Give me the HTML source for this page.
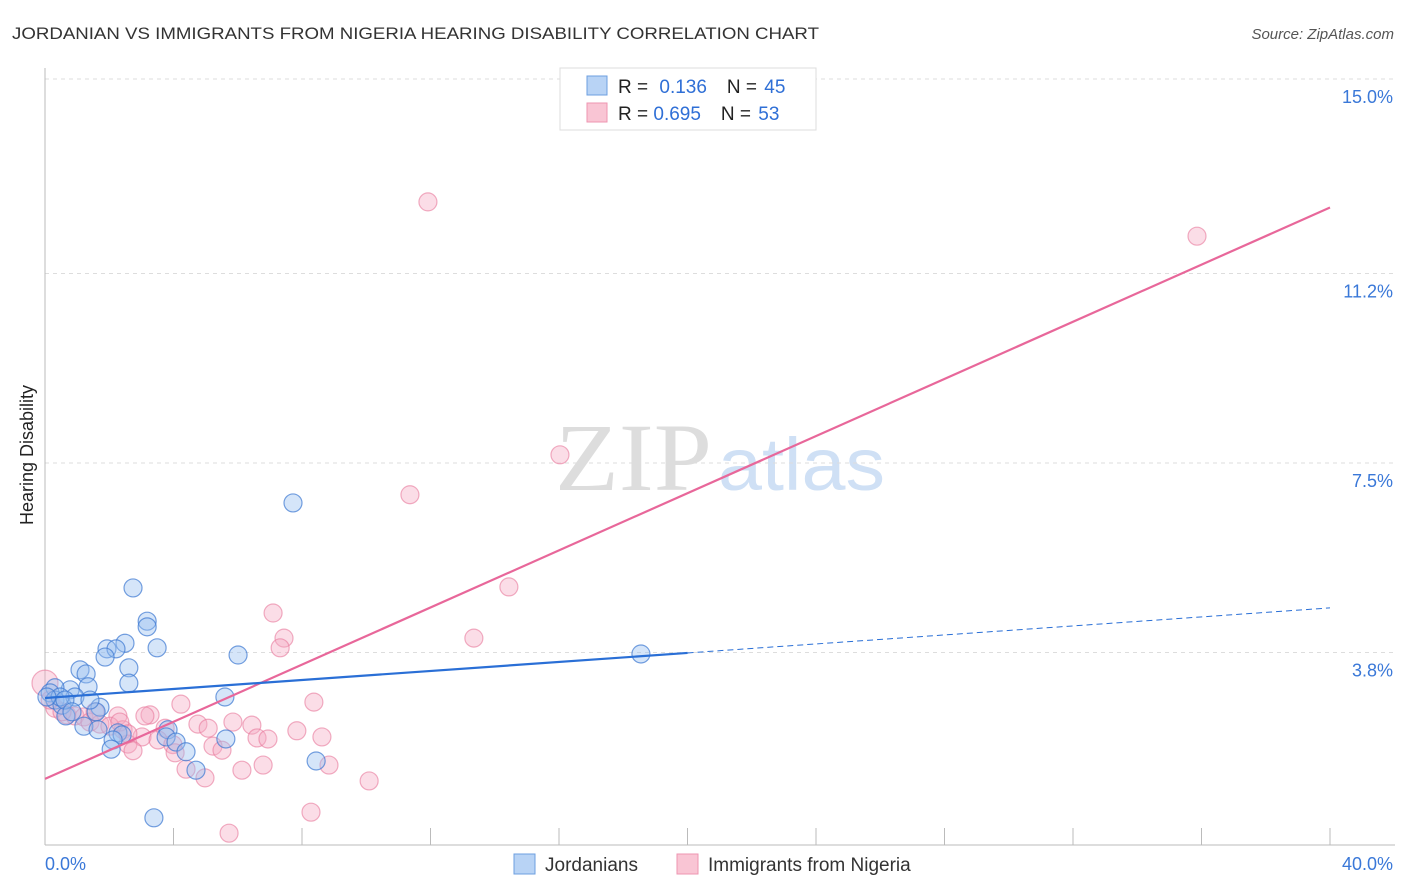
<!DOCTYPE html>
<html><head><meta charset="utf-8"><style>
body{margin:0;background:#fff;font-family:"Liberation Sans",sans-serif}
svg{display:block}
</style></head><body>
<svg id="c" width="1406" height="892">
<text x="12" y="39" font-size="17" fill="#333" textLength="807" lengthAdjust="spacingAndGlyphs">JORDANIAN VS IMMIGRANTS FROM NIGERIA HEARING DISABILITY CORRELATION CHART</text>
<text x="1394" y="39" font-size="15" fill="#555" font-style="italic" text-anchor="end">Source: ZipAtlas.com</text>
<text x="555" y="490" font-size="96" fill="#ddd" textLength="157" lengthAdjust="spacingAndGlyphs" font-family="Liberation Serif,serif">ZIP</text>
<text x="718" y="490" font-size="74" fill="#cfe0f5" textLength="167" lengthAdjust="spacingAndGlyphs">atlas</text>
<text transform="translate(33,455) rotate(-90)" font-size="18" fill="#222" text-anchor="middle">Hearing Disability</text>
<g id="grid"></g><g id="axes"></g><g id="pts"></g><g id="lines"></g>
<g>
<rect x="560" y="68" width="256" height="62" fill="#fff" stroke="#ddd"/>
<rect x="587" y="76" width="20" height="19" fill="#b8d3f5" stroke="#6d9fe0"/>
<rect x="587" y="103" width="20" height="19" fill="#f9c5d4" stroke="#ee95b1"/>
<text x="618" y="93" font-size="19" fill="#222">R = <tspan fill="#2f6fd6" dx="6">0.136</tspan><tspan fill="#222" dx="20">N = </tspan><tspan fill="#2f6fd6" dx="2">45</tspan></text>
<text x="618" y="120" font-size="19" fill="#222">R = <tspan fill="#2f6fd6">0.695</tspan><tspan fill="#222" dx="20">N = </tspan><tspan fill="#2f6fd6" dx="2">53</tspan></text>
</g>
<g>
<rect x="514" y="854" width="21" height="20" fill="#b8d3f5" stroke="#6d9fe0"/>
<text x="545" y="871" font-size="19" fill="#333">Jordanians</text>
<rect x="677" y="854" width="21" height="20" fill="#f9c5d4" stroke="#ee95b1"/>
<text x="708" y="871" font-size="19" fill="#333">Immigrants from Nigeria</text>
</g>
</svg>
<script>
const yTicks=[15.0,11.2,7.5,3.8];
const yTickLabels=["15.0%","11.2%","7.5%","3.8%"];
const xTickLabels=["0.0%","40.0%"];
const blueX=[7.72,2.74,3.18,3.18,3.49,6.01,18.55,2.49,1.93,2.21,1.87,2.61,2.61,1.09,1.28,1.34,0.78,0.31,0.16,0.31,0.53,0.93,5.60,1.71,1.59,0.65,1.21,1.65,2.27,2.40,2.12,2.06,3.83,3.77,4.08,4.39,5.63,4.70,8.44,3.39,0.47,0.06,1.40,0.62,0.84];
const blueY=[6.72,5.06,4.41,4.30,3.89,3.75,3.77,3.98,3.87,3.87,3.71,3.50,3.20,3.46,3.38,3.13,3.07,3.11,3.01,2.87,2.77,2.93,2.93,2.73,2.64,2.56,2.36,2.29,2.23,2.19,2.09,1.91,2.29,2.15,2.05,1.86,2.11,1.50,1.68,0.57,2.93,2.93,2.87,2.87,2.64];
const pinkX=[11.92,35.86,16.03,11.36,14.44,7.10,7.44,7.32,13.35,8.37,4.23,3.27,3.11,2.27,5.85,6.44,4.76,5.08,3.74,7.84,8.62,6.60,6.94,2.43,3.02,3.52,2.58,3.98,5.23,5.51,2.74,4.05,6.79,8.84,4.39,6.13,4.98,10.09,8.28,5.73,0,0.31,0.68,0.93,1.21,0.53,1.40,1.71,2.02,2.33,0.16,1.56,2.58];
const pinkY=[12.60,11.93,7.66,6.88,5.08,4.57,4.08,3.89,4.08,2.83,2.79,2.58,2.56,2.56,2.44,2.38,2.40,2.32,2.32,2.27,2.15,2.13,2.11,2.29,2.15,2.09,2.01,2.00,1.97,1.89,1.88,1.84,1.60,1.60,1.52,1.50,1.35,1.29,0.68,0.27,3.20,2.71,2.58,2.56,2.54,2.64,2.44,2.40,2.36,2.44,2.87,2.64,2.21];
const blueFit=[2.91,0.044]; // intercept, slope
const blueSolidEnd=20;
const pinkFit=[1.33,0.279];
const xs=v=>45+v*32.125, ys=v=>847-51.2*v;
const NS="http://www.w3.org/2000/svg";
function mk(p,t,a){const e=document.createElementNS(NS,t);for(const k in a)e.setAttribute(k,a[k]);document.getElementById(p).appendChild(e);return e;}
yTicks.forEach((v,i)=>{
 const l=mk('grid','line',{x1:45,x2:1395,y1:ys(v),y2:ys(v),stroke:'#ddd','stroke-dasharray':'4,4'});
 
 
 const t=mk('grid','text',{x:1393,y:ys(v)+24,'font-size':18,fill:'#3a78d8','text-anchor':'end'});
 t.textContent=yTickLabels[i];
 
 
});
mk('axes','line',{x1:45,x2:45,y1:68,y2:845,stroke:'#bbb'});
mk('axes','line',{x1:45,x2:1395,y1:845,y2:845,stroke:'#bbb'});
for(let i=1;i<=10;i++){const t=mk('axes','line',{x1:xs(i*4),x2:xs(i*4),y1:828,y2:845,stroke:'#bbb'});
 
 }
const xl0=mk('axes','text',{x:45,y:870,'font-size':18,fill:'#3a78d8'});xl0.textContent=xTickLabels[0];


const xl1=mk('axes','text',{x:1393,y:870,'font-size':18,fill:'#3a78d8','text-anchor':'end'});xl1.textContent=xTickLabels[1];


pinkX.forEach((x,i)=>{const c=mk('pts','circle',{cx:xs(x),cy:ys(pinkY[i]),r:i==40?13:9,fill:'rgba(246,170,195,0.4)',stroke:'rgba(232,120,155,0.6)','stroke-width':1.2});
 
 });
blueX.forEach((x,i)=>{const c=mk('pts','circle',{cx:xs(x),cy:ys(blueY[i]),r:9,fill:'rgba(150,190,240,0.4)',stroke:'rgba(60,120,210,0.7)','stroke-width':1.2});
 
 });
const f=(p,x)=>p[0]+p[1]*x;
const pl=mk('lines','line',{x1:xs(0),y1:ys(f(pinkFit,0)),x2:xs(40),y2:ys(f(pinkFit,40)),stroke:'#e8679a','stroke-width':2.2});


const bl=mk('lines','line',{x1:xs(0),y1:ys(f(blueFit,0)),x2:xs(blueSolidEnd),y2:ys(f(blueFit,blueSolidEnd)),stroke:'#2a6fd6','stroke-width':2.2});


const bd=mk('lines','line',{x1:xs(blueSolidEnd),y1:ys(f(blueFit,blueSolidEnd)),x2:xs(40),y2:ys(f(blueFit,40)),stroke:'#2a6fd6','stroke-width':1,'stroke-dasharray':'6,4'});


</script>
</body></html>
